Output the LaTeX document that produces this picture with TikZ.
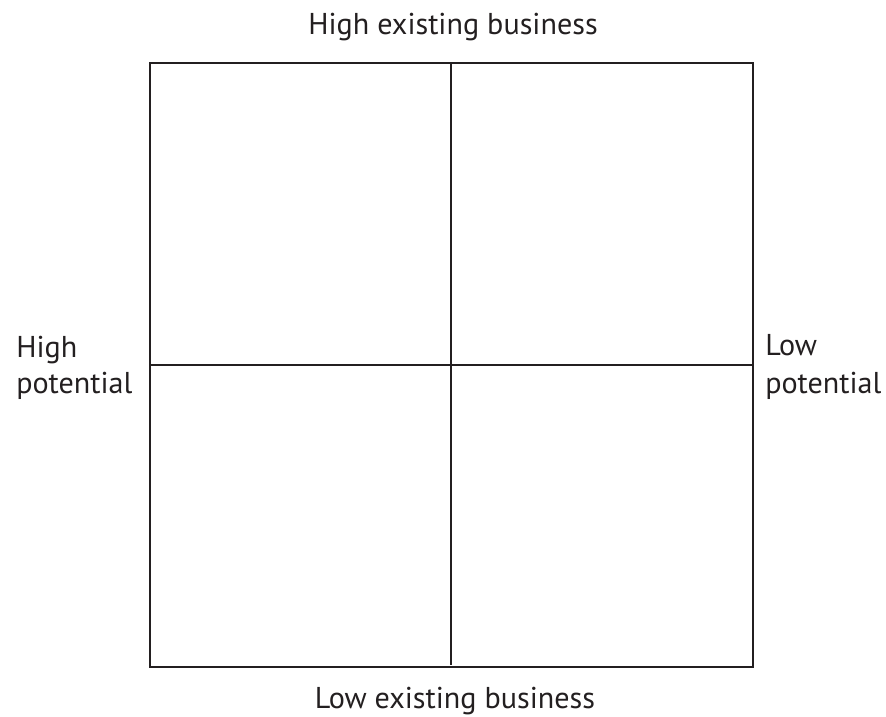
\documentclass[tikz,border=0pt]{standalone}
\usepackage{fontspec}
\setmainfont{PT Sans}
\definecolor{inkgray}{HTML}{231F20}

\begin{document}
\begin{tikzpicture}[x=0.75pt,y=0.75pt,yscale=-1,xscale=1,
  every node/.style={text=inkgray,font=\fontsize{22.6}{27}\selectfont},
  grid/.style={draw=inkgray,line width=1.1pt}]
\useasboundingbox (0,0) rectangle (886,717);
% box and dividers
\coordinate (nw) at (150,63);
\coordinate (se) at (753,667);
\coordinate (top) at (451,63);
\coordinate (bot) at (451,665);
\coordinate (left) at (150,365);
\coordinate (right) at (753,365);
\draw[grid] (nw) rectangle (se);
\draw[grid] (top) -- (bot);
\draw[grid] (left) -- (right);
% Text Node
\draw (453,35) node [anchor=base] [inner sep=0pt] (hieb) {High existing business};
% Text Node
\draw (455,708) node [anchor=base] [inner sep=0pt] (loeb) {Low existing business};
% Text Node
\draw (16,357) node [anchor=base west] [inner sep=0pt] (hip) {High};
\draw (16,393) node [anchor=base west] [inner sep=0pt] (hipb) {potential};
% Text Node
\draw (765,355) node [anchor=base west] [inner sep=0pt] (lop) {Low};
\draw (765,393) node [anchor=base west] [inner sep=0pt] (lopb) {potential};
\end{tikzpicture}
\end{document}
